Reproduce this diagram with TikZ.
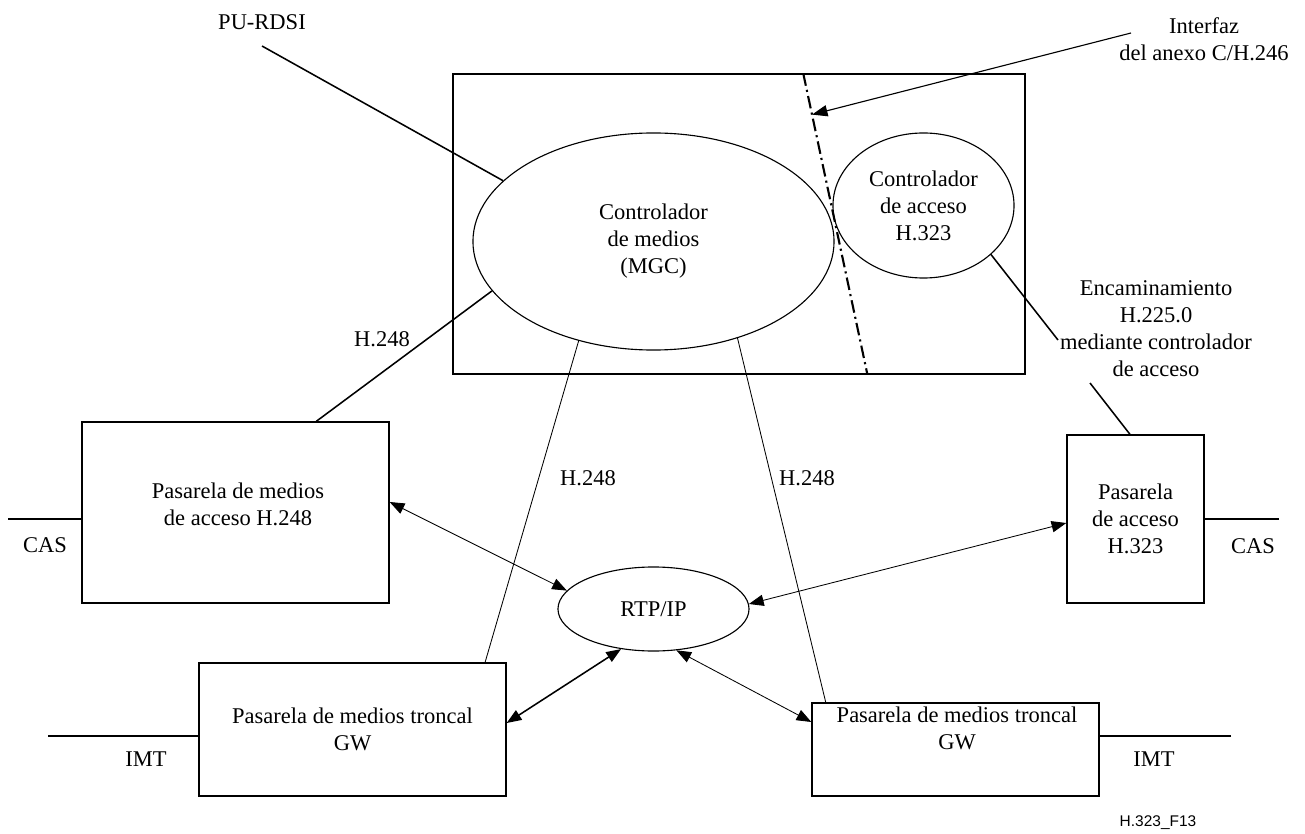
\documentclass[tikz,border=0pt]{standalone}
\usepackage{fontspec}
\setmainfont{Liberation Serif}
\newfontfamily\tagfont{Liberation Sans}
\usetikzlibrary{shapes.geometric,arrows.meta,calc}

\begin{document}
\begin{tikzpicture}[x=0.025cm,y=-0.025cm,
  txt/.style={font=\fontsize{16}{19.2}\selectfont,align=center,inner sep=0pt},
  box/.style={draw,line width=0.9pt,rectangle,inner sep=0pt,txt},
  oval/.style={draw,line width=0.8pt,ellipse,inner sep=0pt,txt},
  lead/.style={line width=1.1pt},
  ctrl/.style={line width=0.6pt},
  stub/.style={line width=0.9pt},
  arrowto/.style={-{Triangle[length=11pt,width=8pt]},line width=0.8pt},
  dbl/.style={{Triangle[length=10.5pt,width=8pt]}-{Triangle[length=10.5pt,width=8pt]},line width=0.6pt},
  ifc/.style={line width=1.5pt,dash pattern=on 9pt off 3pt on 1.5pt off 3pt}]
\useasboundingbox (0,0) rectangle (1305,834);

% controller frame
\node[box,minimum width=14.3cm,minimum height=7.5cm] (frame) at (739,224) {};
\node[oval,minimum width=9.025cm,minimum height=5.425cm] (mgc) at (653.5,241.5) {Controlador\\de medios\\(MGC)};
\node[oval,minimum width=4.525cm,minimum height=3.625cm] (gk) at (923.5,205.5) {Controlador\\de acceso\\H.323};
\node[oval,minimum width=4.775cm,minimum height=2.1cm] (rtp) at (653.5,609) {RTP/IP};

% gateways
\node[box,minimum width=7.675cm,minimum height=4.525cm] (amg) at (235.5,512.5) {};
\node[txt] (amgtxt) at (238,504) {Pasarela de medios\\de acceso H.248};
\node[box,minimum width=7.675cm,minimum height=3.325cm] (tmg1) at (352.5,729.5) {Pasarela de medios troncal\\GW};
\node[box,minimum width=7.175cm,minimum height=2.325cm] (tmg2) at (955.5,749.5) {};
\node[txt] (tmg2txt) at (957,728.5) {Pasarela de medios troncal\\GW};
\node[box,minimum width=3.425cm,minimum height=4.2cm] (pa) at (1135.5,519) {Pasarela\\de acceso\\H.323};

% labels
\node[txt] (purdsi) at (262,22) {PU-RDSI};
\node[txt] (ifctxt) at (1204,39.5) {Interfaz\\del anexo C/H.246};
\node[txt] (enc) at (1156,329) {Encaminamiento\\H.225.0\\mediante controlador\\de acceso};
\node[txt] (h248a) at (382,339) {H.248};
\node[txt] (h248b) at (588,478) {H.248};
\node[txt] (h248c) at (807,478) {H.248};
\node[txt] (casl) at (45,545) {CAS};
\node[txt] (casr) at (1253,546) {CAS};
\node[txt] (imtl) at (146,759) {IMT};
\node[txt] (imtr) at (1154,759) {IMT};
\node[font=\tagfont\fontsize{11}{13}\selectfont,inner sep=0pt] (tag) at (1158,823) {H.323\_F13};

\coordinate (purdsi-end) at (262,46);
\coordinate (ifc-start) at (1131,33);
\coordinate (enc-a) at (1058,340);
\coordinate (enc-b) at (1090,383);
\coordinate (ifc-top) at ($(frame.north west)!0.612!(frame.north east)$);
\coordinate (ifc-bot) at ($(frame.south west)!0.724!(frame.south east)$);
\coordinate (cas-l) at (8,519);
\coordinate (cas-r) at (1279,519);
\coordinate (imt-l) at (48,736);
\coordinate (imt-r) at (1231,736);

% interface line
\draw[ifc] (ifc-top) -- (ifc-bot);
\draw[arrowto] (ifc-start) -- ($(ifc-top)!0.137!(ifc-bot)$);

% signalling
\draw[lead] (purdsi-end) -- (mgc.158.9);
\draw[lead] (mgc.197.8) -- ($(amg.north west)!0.762!(amg.north east)$);
\draw[ctrl] (mgc.233.8) -- ($(tmg1.north west)!0.93!(tmg1.north east)$);
\draw[ctrl] (mgc.311.5) -- ($(tmg2.north west)!0.05!(tmg2.north east)$);
\draw[lead] (gk.324.5) -- (enc-a);
\draw[lead] (enc-b) -- ($(pa.north west)!0.46!(pa.north east)$);

% media
\draw[dbl] ($(amg.east)+(0,-10.5)$) -- (rtp.168.5);
\draw[dbl] (rtp.3.6) -- ($(pa.west)+(0,4)$);
\draw[dbl,line width=1.1pt] ($(tmg1.east)+(0,-6.5)$) -- (rtp.231.4);
\draw[dbl] (rtp.299.1) -- ($(tmg2.west)+(0,-27.5)$);

% trunks
\draw[stub] (cas-l) -- (cas-l -| amg.west);
\draw[stub] (cas-r) -- (cas-r -| pa.east);
\draw[stub] (imt-l) -- (imt-l -| tmg1.west);
\draw[stub] (imt-r) -- (imt-r -| tmg2.east);

\end{tikzpicture}
\end{document}
